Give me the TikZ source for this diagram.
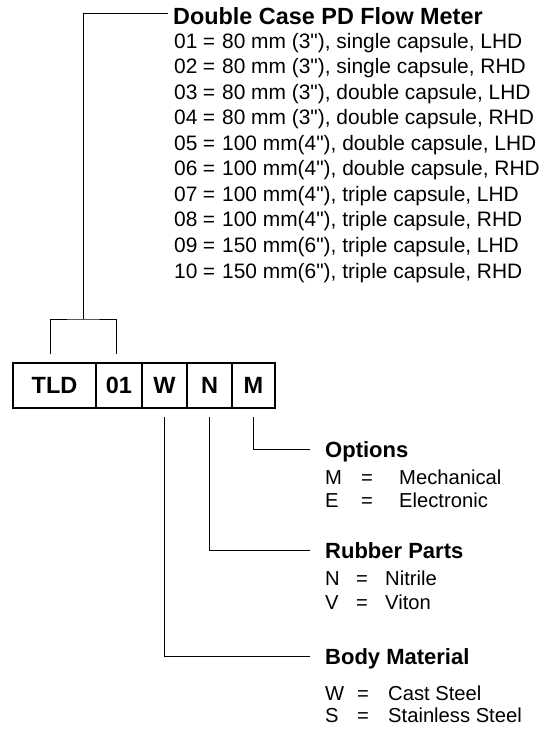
\documentclass[tikz,border=0pt]{standalone}
\usepackage{fontspec}
\setmainfont{Liberation Sans}
\newfontfamily\recta{Liberation Sans}
\usetikzlibrary{positioning,calc}
\tikzset{
	celda/.style={
		draw=black,
		line width=1.6pt,
		minimum height=45pt,
		inner sep=0pt,
		font=\fontsize{23.5}{27}\selectfont\bfseries
	},
	titulo/.style={
		anchor=base west,
		inner sep=0pt,
		font=\fontsize{22}{26}\selectfont\bfseries
	},
	texto/.style={
		anchor=base west,
		inner sep=0pt,
		font=\fontsize{20.2}{24}\selectfont
	},
	igual/.style={
		anchor=base,
		inner sep=0pt,
		font=\fontsize{20.2}{24}\selectfont
	},
	modelo/.style={
		anchor=base west,
		inner sep=0pt,
		font=\recta\fontsize{20.9}{24}\selectfont
	},
	linea/.style={
		line width=1pt,
		black
	}
}
\begin{document}
\begin{tikzpicture}[x=1pt,y=-1pt]
		\useasboundingbox (0,0) rectangle (548,731);
		% casillas del codigo
		\node[celda, minimum width=83pt] (cTLD) at (54.5,385.5) {TLD};
		\node[celda, minimum width=46pt] (c01) at (119,385.5) {01};
		\node[celda, minimum width=45pt] (cW) at (164.5,385.5) {W};
		\node[celda, minimum width=45pt] (cN) at (209.5,385.5) {N};
		\node[celda, minimum width=43pt] (cM) at (253.5,385.5) {M};
		% modelo
		\node[titulo, font=\fontsize{23.4}{27}\selectfont\bfseries] (hMeter) at (173,24) {Double Case PD Flow Meter};
		\foreach \cod/\val [count=\i] in {
			01/{80 mm (3"), single capsule, LHD},
			02/{80 mm (3"), single capsule, RHD},
			03/{80 mm (3"), double capsule, LHD},
			04/{80 mm (3"), double capsule, RHD},
			05/{100 mm(4"), double capsule, LHD},
			06/{100 mm(4"), double capsule, RHD},
			07/{100 mm(4"), triple capsule, LHD},
			08/{100 mm(4"), triple capsule, RHD},
			09/{150 mm(6"), triple capsule, LHD},
			10/{150 mm(6"), triple capsule, RHD}}{
			\node[modelo] (m\i) at (174,{48+25.56*(\i-1)}) {\cod};
			\node[modelo, anchor=base] (me\i) at (209,{48+25.56*(\i-1)}) {=};
			\node[modelo] (mv\i) at (222,{48+25.56*(\i-1)}) {\val};
		}
		% opciones
		\node[titulo] (hOpt) at (325,457) {Options};
		\node[texto] (o1) at (325,484) {M};
		\node[igual] (oe1) at (367,484) {=};
		\node[texto] (ov1) at (399,484) {Mechanical};
		\node[texto] (o2) at (325,507) {E};
		\node[igual] (oe2) at (367,507) {=};
		\node[texto] (ov2) at (399,507) {Electronic};
		% juntas
		\node[titulo] (hRub) at (325,558) {Rubber Parts};
		\node[texto] (r1) at (325,585) {N};
		\node[igual] (re1) at (362,585) {=};
		\node[texto] (rv1) at (385,585) {Nitrile};
		\node[texto] (r2) at (325,609) {V};
		\node[igual] (re2) at (362,609) {=};
		\node[texto] (rv2) at (385,609) {Viton};
		% material
		\node[titulo] (hBody) at (325,664) {Body Material};
		\node[texto] (b1) at (325,700) {W};
		\node[igual] (be1) at (363,700) {=};
		\node[texto] (bv1) at (388,700) {Cast Steel};
		\node[texto] (b2) at (325,722) {S};
		\node[igual] (be2) at (363,722) {=};
		\node[texto] (bv2) at (388,722) {Stainless Steel};
		% conectores
		\coordinate (brk) at (83,319);
		\draw[linea] ([xshift=-4.5pt,yshift=8pt]cTLD.north) |- (brk) -| ([xshift=-3pt,yshift=8pt]c01.north);
		\draw[linea] (brk) |- ([xshift=-5pt,yshift=11pt]hMeter.base west);
		\draw[linea] ([yshift=-8pt]cM.south) |- ([xshift=-15pt,yshift=8pt]hOpt.base west);
		\draw[linea] ([yshift=-8pt]cN.south) |- ([xshift=-15pt,yshift=8pt]hRub.base west);
		\draw[linea] ([yshift=-8pt]cW.south) |- ([xshift=-15pt,yshift=8pt]hBody.base west);
	\end{tikzpicture}
\end{document}
